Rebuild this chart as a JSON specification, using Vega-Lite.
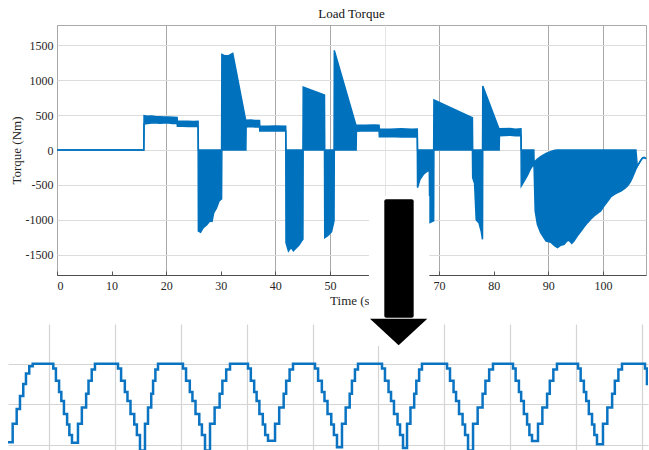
{
  "$schema": "https://vega.github.io/schema/vega-lite/v6.json",
  "padding": {"left": 8, "top": 7, "right": 0, "bottom": 0},
  "autosize": {"type": "pad"},
  "background": "white",
  "config": {
    "view": {"stroke": null},
    "font": "Liberation Serif",
    "axis": {"labelFont": "Liberation Serif", "titleFont": "Liberation Serif", "titleFontWeight": "normal", "zindex": 0},
    "title": {"font": "Liberation Serif", "fontWeight": "normal"},
    "concat": {"spacing": 0}
  },
  "datasets": {
    "torque": [
      {"t": 0, "hi": 0, "lo": 0}, {"t": 15.9, "hi": 0, "lo": 0},
      {"t": 15.95, "hi": 490, "lo": 372}, {"t": 16.6, "hi": 482, "lo": 380}, {"t": 17.3, "hi": 486, "lo": 384},
      {"t": 18.0, "hi": 478, "lo": 388}, {"t": 18.8, "hi": 476, "lo": 382}, {"t": 19.6, "hi": 472, "lo": 386},
      {"t": 20.4, "hi": 470, "lo": 384}, {"t": 21.2, "hi": 468, "lo": 380}, {"t": 22.0, "hi": 465, "lo": 378},
      {"t": 22.05, "hi": 414, "lo": 338}, {"t": 23.0, "hi": 410, "lo": 340}, {"t": 24.0, "hi": 412, "lo": 336},
      {"t": 25.0, "hi": 408, "lo": 338}, {"t": 25.85, "hi": 410, "lo": 335},
      {"t": 25.9, "hi": 0, "lo": -1157}, {"t": 26.3, "hi": 0, "lo": -1175}, {"t": 26.8, "hi": 0, "lo": -1110},
      {"t": 27.4, "hi": 0, "lo": -1070}, {"t": 28.0, "hi": 0, "lo": -1014}, {"t": 28.4, "hi": 0, "lo": -1020},
      {"t": 28.7, "hi": 0, "lo": -900}, {"t": 29.2, "hi": 0, "lo": -830}, {"t": 29.7, "hi": 0, "lo": -729},
      {"t": 30.15, "hi": 0, "lo": -700},
      {"t": 30.2, "hi": 1367, "lo": 0}, {"t": 30.8, "hi": 1345, "lo": 0}, {"t": 31.5, "hi": 1352, "lo": 0},
      {"t": 32.2, "hi": 1381, "lo": 0}, {"t": 34.6, "hi": 414, "lo": 0},
      {"t": 34.65, "hi": 426, "lo": 330}, {"t": 35.5, "hi": 430, "lo": 335}, {"t": 36.3, "hi": 420, "lo": 328},
      {"t": 37.1, "hi": 422, "lo": 332},
      {"t": 37.15, "hi": 343, "lo": 271}, {"t": 38.5, "hi": 338, "lo": 274}, {"t": 40.0, "hi": 342, "lo": 270},
      {"t": 41.9, "hi": 340, "lo": 272},
      {"t": 41.95, "hi": 0, "lo": -1324}, {"t": 42.4, "hi": 0, "lo": -1443}, {"t": 42.9, "hi": 0, "lo": -1390},
      {"t": 43.3, "hi": 0, "lo": -1440}, {"t": 43.8, "hi": 0, "lo": -1400}, {"t": 44.3, "hi": 0, "lo": -1360},
      {"t": 44.8, "hi": 0, "lo": -1300}, {"t": 45.05, "hi": 0, "lo": -1276},
      {"t": 45.1, "hi": 900, "lo": 0}, {"t": 49.0, "hi": 786, "lo": 0},
      {"t": 49.05, "hi": 0, "lo": -1253}, {"t": 49.6, "hi": 0, "lo": -1225}, {"t": 50.3, "hi": 0, "lo": -1165},
      {"t": 50.75, "hi": 0, "lo": -1010},
      {"t": 50.8, "hi": 1424, "lo": 0}, {"t": 54.8, "hi": 343, "lo": 0},
      {"t": 54.85, "hi": 357, "lo": 268}, {"t": 56.5, "hi": 352, "lo": 274}, {"t": 58.0, "hi": 356, "lo": 270},
      {"t": 59.0, "hi": 353, "lo": 272},
      {"t": 59.05, "hi": 300, "lo": 188}, {"t": 61.0, "hi": 296, "lo": 194}, {"t": 63.0, "hi": 302, "lo": 186},
      {"t": 65.0, "hi": 298, "lo": 190}, {"t": 66.0, "hi": 300, "lo": 186},
      {"t": 66.05, "hi": 0, "lo": -538}, {"t": 66.5, "hi": 0, "lo": -420}, {"t": 67.2, "hi": 0, "lo": -340},
      {"t": 67.9, "hi": 0, "lo": -300}, {"t": 68.2, "hi": 0, "lo": -290}, {"t": 68.3, "hi": 0, "lo": -1038},
      {"t": 69.0, "hi": 0, "lo": -1010},
      {"t": 69.05, "hi": 714, "lo": 0}, {"t": 76.1, "hi": 462, "lo": 0},
      {"t": 76.15, "hi": 0, "lo": -395}, {"t": 76.5, "hi": 0, "lo": -480}, {"t": 76.8, "hi": 0, "lo": -1000},
      {"t": 77.3, "hi": 0, "lo": -1040}, {"t": 77.7, "hi": 0, "lo": -1157}, {"t": 77.95, "hi": 0, "lo": -1276},
      {"t": 78.0, "hi": 914, "lo": 0}, {"t": 81.0, "hi": 296, "lo": 0},
      {"t": 81.05, "hi": 302, "lo": 205}, {"t": 83.0, "hi": 306, "lo": 210}, {"t": 84.0, "hi": 298, "lo": 205},
      {"t": 85.0, "hi": 302, "lo": 208},
      {"t": 85.05, "hi": 0, "lo": -514}, {"t": 85.6, "hi": 0, "lo": -440}, {"t": 86.2, "hi": 0, "lo": -360},
      {"t": 86.8, "hi": 0, "lo": -260}, {"t": 87.35, "hi": 0, "lo": -200},
      {"t": 87.4, "hi": -181, "lo": -252}, {"t": 87.6, "hi": -160, "lo": -871}, {"t": 88.0, "hi": -130, "lo": -1062},
      {"t": 88.6, "hi": -95, "lo": -1181}, {"t": 89.6, "hi": -50, "lo": -1300}, {"t": 90.5, "hi": -20, "lo": -1320},
      {"t": 91.2, "hi": -5, "lo": -1370}, {"t": 91.7, "hi": 0, "lo": -1395}, {"t": 92.3, "hi": 0, "lo": -1360},
      {"t": 92.9, "hi": 0, "lo": -1348}, {"t": 93.4, "hi": 0, "lo": -1300}, {"t": 93.8, "hi": 0, "lo": -1291},
      {"t": 94.3, "hi": 0, "lo": -1335}, {"t": 94.7, "hi": 0, "lo": -1300}, {"t": 95.3, "hi": 0, "lo": -1230},
      {"t": 96.0, "hi": 0, "lo": -1157}, {"t": 96.6, "hi": 0, "lo": -1095}, {"t": 97.2, "hi": 0, "lo": -1038},
      {"t": 97.8, "hi": 0, "lo": -985}, {"t": 98.4, "hi": 0, "lo": -943}, {"t": 99.0, "hi": 0, "lo": -905},
      {"t": 99.6, "hi": 0, "lo": -871}, {"t": 100.2, "hi": 0, "lo": -800}, {"t": 100.9, "hi": 0, "lo": -729},
      {"t": 101.5, "hi": 0, "lo": -665}, {"t": 102.1, "hi": 0, "lo": -633}, {"t": 102.7, "hi": 0, "lo": -610},
      {"t": 103.3, "hi": 0, "lo": -586}, {"t": 104.0, "hi": 0, "lo": -550}, {"t": 104.5, "hi": 0, "lo": -514},
      {"t": 105.0, "hi": 0, "lo": -460}, {"t": 105.4, "hi": 0, "lo": -395}, {"t": 105.8, "hi": 0, "lo": -320},
      {"t": 106.05, "hi": 0, "lo": -276},
      {"t": 106.3, "hi": -230, "lo": -230}, {"t": 106.7, "hi": -180, "lo": -180}, {"t": 107.0, "hi": -140, "lo": -140},
      {"t": 107.3, "hi": -110, "lo": -110}, {"t": 107.6, "hi": -108, "lo": -108}, {"t": 107.9, "hi": -122, "lo": -122}
    ],
    "wave": [
      {"t": 0.373, "v": 0.03}, {"t": 0.444, "v": 0.26}, {"t": 0.505, "v": 0.44}, {"t": 0.555, "v": 0.6},
      {"t": 0.605, "v": 0.75}, {"t": 0.646, "v": 0.88}, {"t": 0.696, "v": 0.97}, {"t": 0.748, "v": 1.0},
      {"t": 1.061, "v": 0.94}, {"t": 1.101, "v": 0.79}, {"t": 1.149, "v": 0.65}, {"t": 1.183, "v": 0.54},
      {"t": 1.223, "v": 0.38}, {"t": 1.271, "v": 0.25}, {"t": 1.305, "v": 0.12}, {"t": 1.345, "v": 0.025},
      {"t": 1.436, "v": 0.26}, {"t": 1.495, "v": 0.46}, {"t": 1.56, "v": 0.63}, {"t": 1.596, "v": 0.79},
      {"t": 1.645, "v": 0.93}, {"t": 1.694, "v": 1.0},
      {"t": 2.044, "v": 0.94}, {"t": 2.091, "v": 0.79}, {"t": 2.148, "v": 0.65}, {"t": 2.188, "v": 0.54},
      {"t": 2.234, "v": 0.38}, {"t": 2.291, "v": 0.25}, {"t": 2.331, "v": 0.12}, {"t": 2.378, "v": -0.07},
      {"t": 2.454, "v": 0.26}, {"t": 2.5, "v": 0.46}, {"t": 2.549, "v": 0.63}, {"t": 2.577, "v": 0.79},
      {"t": 2.612, "v": 0.93}, {"t": 2.652, "v": 1.0},
      {"t": 3.031, "v": 0.94}, {"t": 3.078, "v": 0.79}, {"t": 3.135, "v": 0.65}, {"t": 3.175, "v": 0.54},
      {"t": 3.222, "v": 0.38}, {"t": 3.279, "v": 0.25}, {"t": 3.319, "v": 0.12}, {"t": 3.366, "v": -0.07},
      {"t": 3.442, "v": 0.26}, {"t": 3.512, "v": 0.46}, {"t": 3.588, "v": 0.63}, {"t": 3.63, "v": 0.79},
      {"t": 3.688, "v": 0.93}, {"t": 3.746, "v": 1.0},
      {"t": 4.019, "v": 0.94}, {"t": 4.062, "v": 0.79}, {"t": 4.113, "v": 0.65}, {"t": 4.15, "v": 0.54},
      {"t": 4.192, "v": 0.38}, {"t": 4.244, "v": 0.25}, {"t": 4.28, "v": 0.12}, {"t": 4.323, "v": 0.05},
      {"t": 4.43, "v": 0.26}, {"t": 4.493, "v": 0.46}, {"t": 4.561, "v": 0.63}, {"t": 4.599, "v": 0.79},
      {"t": 4.651, "v": 0.93}, {"t": 4.703, "v": 1.0},
      {"t": 5.037, "v": 0.94}, {"t": 5.084, "v": 0.79}, {"t": 5.141, "v": 0.65}, {"t": 5.181, "v": 0.54},
      {"t": 5.227, "v": 0.38}, {"t": 5.284, "v": 0.25}, {"t": 5.324, "v": 0.12}, {"t": 5.371, "v": -0.03},
      {"t": 5.447, "v": 0.26}, {"t": 5.503, "v": 0.46}, {"t": 5.564, "v": 0.63}, {"t": 5.598, "v": 0.79},
      {"t": 5.644, "v": 0.93}, {"t": 5.69, "v": 1.0},
      {"t": 6.055, "v": 0.94}, {"t": 6.1, "v": 0.79}, {"t": 6.154, "v": 0.65}, {"t": 6.192, "v": 0.54},
      {"t": 6.237, "v": 0.38}, {"t": 6.291, "v": 0.25}, {"t": 6.329, "v": 0.12}, {"t": 6.374, "v": -0.04},
      {"t": 6.435, "v": 0.26}, {"t": 6.487, "v": 0.46}, {"t": 6.544, "v": 0.63}, {"t": 6.576, "v": 0.79},
      {"t": 6.619, "v": 0.93}, {"t": 6.662, "v": 1.0},
      {"t": 7.043, "v": 0.94}, {"t": 7.088, "v": 0.79}, {"t": 7.142, "v": 0.65}, {"t": 7.18, "v": 0.54},
      {"t": 7.225, "v": 0.38}, {"t": 7.279, "v": 0.25}, {"t": 7.317, "v": 0.12}, {"t": 7.362, "v": -0.07},
      {"t": 7.438, "v": 0.26}, {"t": 7.508, "v": 0.46}, {"t": 7.583, "v": 0.63}, {"t": 7.626, "v": 0.79},
      {"t": 7.683, "v": 0.93}, {"t": 7.741, "v": 1.0},
      {"t": 8.045, "v": 0.94}, {"t": 8.085, "v": 0.79}, {"t": 8.135, "v": 0.65}, {"t": 8.169, "v": 0.54},
      {"t": 8.21, "v": 0.38}, {"t": 8.259, "v": 0.25}, {"t": 8.294, "v": 0.12}, {"t": 8.334, "v": 0.045},
      {"t": 8.425, "v": 0.26}, {"t": 8.491, "v": 0.46}, {"t": 8.563, "v": 0.63}, {"t": 8.604, "v": 0.79},
      {"t": 8.658, "v": 0.93}, {"t": 8.713, "v": 1.0},
      {"t": 9.033, "v": 0.94}, {"t": 9.073, "v": 0.79}, {"t": 9.122, "v": 0.65}, {"t": 9.157, "v": 0.54},
      {"t": 9.197, "v": 0.38}, {"t": 9.246, "v": 0.25}, {"t": 9.281, "v": 0.12}, {"t": 9.321, "v": 0.005},
      {"t": 9.412, "v": 0.26}, {"t": 9.478, "v": 0.46}, {"t": 9.551, "v": 0.63}, {"t": 9.592, "v": 0.79},
      {"t": 9.646, "v": 0.93}, {"t": 9.701, "v": 1.0},
      {"t": 10.05, "v": 0.94}, {"t": 10.08, "v": 0.75}, {"t": 10.2, "v": 0.6}
    ]
  },
  "spacing": -1,
  "vconcat": [
    {
      "spacing": 0,
      "hconcat": [
        {
          "width": 1, "height": 1,
          "data": {"values": [{}]},
          "mark": {"type": "text", "text": "", "fontSize": 1},
          "encoding": {}
        },
        {
          "width": 589, "height": 250,
          "view": {"stroke": "#a9a9a9"},
          "title": {"text": "Load Torque", "font": "Liberation Serif", "fontSize": 13, "fontWeight": 400, "color": "#111111", "anchor": "middle", "offset": 4},
          "layer": [
            {
              "data": {"name": "torque"},
              "mark": {"type": "area", "color": "#0072BD", "opacity": 1},
              "encoding": {
                "x": {"field": "t", "type": "quantitative", "title": "Time (s)",
                  "scale": {"domain": [0, 107.9], "nice": false, "zero": false},
                  "axis": {"values": [0, 10, 20, 30, 40, 50, 60, 70, 80, 90, 100], "labelExpr": "'' + datum.value",
                    "labelFont": "Liberation Serif", "titleFont": "Liberation Serif",
                    "labelFontSize": 12, "labelColor": "#262626", "titleFontSize": 13, "titleColor": "#262626",
                    "ticks": true, "tickSize": -4, "tickColor": "#555555", "labelPadding": 9, "titlePadding": 3, "domainColor": "#4d4d4d", "domainWidth": 1,
                    "grid": true, "gridWidth": 1,
                    "gridColor": {"condition": {"test": "datum.value === 60", "value": "#e6e6e6"}, "value": "#a8a8a8"},
                    "gridOpacity": {"condition": {"test": "datum.value === 10 || datum.value === 30 || datum.value === 80", "value": 0}, "value": 1}}},
                "y": {"field": "hi", "type": "quantitative", "title": "Torque (Nm)",
                  "scale": {"domain": [-1786, 1786], "nice": false, "zero": false},
                  "axis": {"values": [-1500, -1000, -500, 0, 500, 1000, 1500], "labelExpr": "'' + datum.value",
                    "labelFont": "Liberation Serif", "titleFont": "Liberation Serif",
                    "labelFontSize": 12, "labelColor": "#262626", "titleFontSize": 13, "titleColor": "#262626",
                    "ticks": false, "labelPadding": 4, "titlePadding": 2, "domain": false,
                    "grid": true, "gridColor": "#dcdcdc", "gridWidth": 1}},
                "y2": {"field": "lo"}
              }
            },
            {
              "data": {"name": "torque"},
              "mark": {"type": "line", "color": "#0072BD", "strokeWidth": 1.5},
              "encoding": {
                "x": {"field": "t", "type": "quantitative", "title": "Time (s)"},
                "y": {"field": "hi", "type": "quantitative", "title": "Torque (Nm)"}
              }
            },
            {
              "data": {"name": "torque"},
              "mark": {"type": "line", "color": "#0072BD", "strokeWidth": 1.5},
              "encoding": {
                "x": {"field": "t", "type": "quantitative", "title": "Time (s)"},
                "y": {"field": "lo", "type": "quantitative", "title": "Torque (Nm)"}
              }
            },
            {
              "data": {"values": [{}]},
              "mark": {"type": "rect", "color": "#ffffff", "opacity": 1, "clip": false},
              "encoding": {
                "x": {"datum": 57.15, "type": "quantitative", "title": "Time (s)"}, "x2": {"datum": 68.2},
                "y": {"datum": -657, "type": "quantitative", "title": "Torque (Nm)"}, "y2": {"datum": -2300}
              }
            },
            {
              "data": {"values": [{}]},
              "mark": {"type": "rect", "color": "#000000", "opacity": 1, "cornerRadius": 2, "clip": false},
              "encoding": {
                "x": {"datum": 59.96, "type": "quantitative", "title": "Time (s)"}, "x2": {"datum": 65.34},
                "y": {"datum": -704, "type": "quantitative", "title": "Torque (Nm)"}, "y2": {"datum": -2396}
              }
            }
          ]
        }
      ]
    },
    {
      "width": 640, "height": 126,
      "layer": [
        {
          "data": {"name": "wave"},
          "mark": {"type": "line", "interpolate": "step-after", "color": "#0A74C2", "strokeWidth": 2.5, "clip": true},
          "encoding": {
            "x": {"field": "t", "type": "quantitative",
              "scale": {"domain": [0.373, 10.096], "nice": false, "zero": false},
              "axis": {"values": [1, 2, 3, 4, 5, 6, 7, 8, 9, 10], "title": null, "labels": false, "ticks": false, "domain": false,
                "grid": true, "gridColor": "#d4d4d4", "gridWidth": 1.2}},
            "y": {"field": "v", "type": "quantitative",
              "scale": {"domain": [-0.065, 1.49], "nice": false, "zero": false},
              "axis": {"values": [0, 0.5, 1], "title": null, "labels": false, "ticks": false, "domain": false,
                "grid": true, "gridColor": "#d4d4d4", "gridWidth": 1.2}}
          }
        },
        {
          "data": {"values": [{}]},
          "mark": {"type": "rect", "color": "#ffffff", "opacity": 1, "clip": false},
          "encoding": {
            "x": {"datum": 5.842, "type": "quantitative"}, "x2": {"datum": 6.758},
            "y": {"datum": 1.55, "type": "quantitative"}, "y2": {"datum": 1.22}
          }
        },
        {
          "data": {"values": [{}]},
          "mark": {"type": "point", "shape": "M-1,-0.464L1,-0.464L0,0.464Z", "size": 3283, "filled": true, "color": "#000000", "opacity": 1, "strokeWidth": 0, "clip": false},
          "encoding": {
            "x": {"datum": 6.3076, "type": "quantitative"},
            "y": {"datum": 1.391, "type": "quantitative"}
          }
        }
      ]
    }
  ]
}
